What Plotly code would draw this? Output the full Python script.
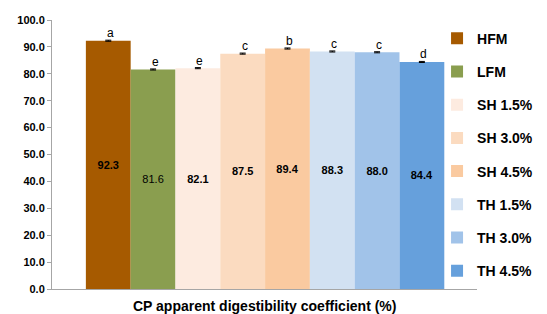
import plotly.graph_objects as go

groups = ["HFM", "LFM", "SH 1.5%", "SH 3.0%", "SH 4.5%", "TH 1.5%", "TH 3.0%", "TH 4.5%"]
values = [92.3, 81.6, 82.1, 87.5, 89.4, 88.3, 88.0, 84.4]
errors = [0.2, 0.2, 0.2, 0.2, 0.2, 0.2, 0.2, 0.2]
letters = ["a", "e", "e", "c", "b", "c", "c", "d"]
colors = ["#A65A00", "#8A9E4F", "#FDEBE0", "#FBDBC0", "#FACAA0", "#D2E1F2", "#A1C3E9", "#66A0DC"]
bold_label = [True, False, True, True, True, True, True, True]
yticks = [0, 10, 20, 30, 40, 50, 60, 70, 80, 90, 100]
xtitle = "CP apparent digestibility coefficient (%)"

FONT = "Liberation Sans, Arial, sans-serif"

fig = go.Figure()
for i, g in enumerate(groups):
    fig.add_trace(go.Bar(
        x=[i], y=[values[i]], name=g, width=1,
        marker=dict(color=colors[i], line=dict(width=0)),
        text=[f"{values[i]:.1f}"], textposition="inside", insidetextanchor="middle",
        textfont=dict(family=FONT, size=11, color="#000000",
                      weight="bold" if bold_label[i] else "normal"),
        error_y=dict(type="data", array=[errors[i]], color="#000000", thickness=1, width=3),
        legendgroup=g, showlegend=True, hoverinfo="skip",
    ))
    fig.add_annotation(x=i, y=values[i] + errors[i], text=letters[i], showarrow=False,
                       yanchor="bottom", xanchor="center", xshift=2, yshift=-2,
                       font=dict(family=FONT, size=12, color="#000000"))

fig.add_annotation(x=0.5, y=0, xref="paper", yref="paper", yanchor="top", yshift=-7,
                   text=xtitle, showarrow=False,
                   font=dict(family=FONT, size=14, color="#000000", weight="bold"))

fig.update_layout(
    width=539, height=306,
    margin=dict(l=44, r=70, t=12, b=25, autoexpand=False),
    paper_bgcolor="white", plot_bgcolor="white",
    barmode="overlay",
    showlegend=True,
    legend=dict(x=0.906, y=0.99, xanchor="left", yanchor="top",
                bgcolor="rgba(0,0,0,0)", tracegroupgap=12, itemwidth=30,
                font=dict(family=FONT, size=14, color="#000000", weight="bold")),
    xaxis=dict(range=[-1.256, 8.23], showticklabels=False, showgrid=False, zeroline=False,
               showline=True, linecolor="#A6A6A6", linewidth=1, ticks="", fixedrange=True,
               automargin=False),
    yaxis=dict(range=[0, 100], tickvals=yticks, ticktext=[f"{v:.1f}" for v in yticks],
               showgrid=False, zeroline=False, showline=True, linecolor="#A6A6A6", linewidth=1,
               ticks="outside", ticklen=4, tickcolor="#A6A6A6", automargin=False,
               tickfont=dict(family=FONT, size=11, color="#000000", weight="bold")),
)

fig.write_html("out.html")
